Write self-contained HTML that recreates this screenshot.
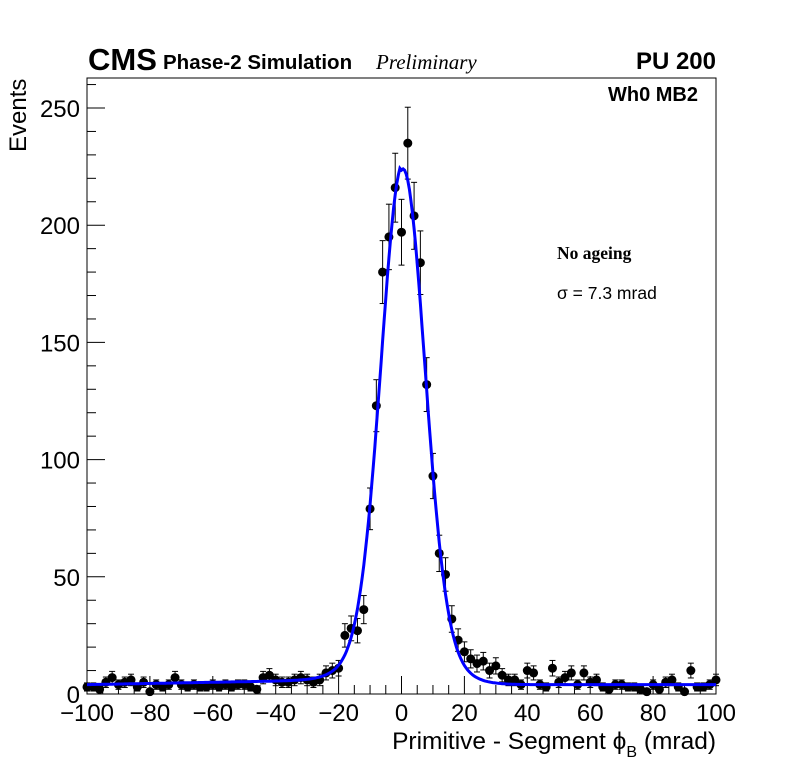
<!DOCTYPE html>
<html><head><meta charset="utf-8"><style>
body{margin:0;background:#fff}
svg text{font-family:"Liberation Sans",sans-serif}
</style></head><body>
<svg id="s" width="796" height="772" xmlns="http://www.w3.org/2000/svg">
<rect x="0" y="0" width="796" height="772" fill="#fff"/>
<rect x="87" y="78" width="629" height="616" fill="none" stroke="#000" stroke-width="1"/>
<g id="ax" stroke="#000" stroke-width="1"></g>
<g id="lab" font-size="24" fill="#000"></g>
<g id="pts"></g>
<polyline id="fit" fill="none" stroke="#0000ff" stroke-width="3"/>
<text x="88" y="70" font-size="31" font-weight="bold">CMS</text>
<text x="163" y="69" font-size="20.5" font-weight="bold">Phase-2 Simulation</text>
<text x="376" y="69" font-size="21" font-style="italic" style="font-family:'Liberation Serif',serif">Preliminary</text>
<text x="716" y="69" font-size="24" font-weight="bold" text-anchor="end">PU 200</text>
<text x="698" y="101" font-size="20" font-weight="bold" text-anchor="end">Wh0 MB2</text>
<text x="557" y="259" font-size="17.5" font-weight="bold" style="font-family:'Liberation Serif',serif">No ageing</text>
<text x="557" y="299" font-size="17.5">σ = 7.3 mrad</text>
<text x="716" y="749" font-size="24.5" text-anchor="end">Primitive - Segment ϕ<tspan font-size="16" dy="8">B</tspan><tspan dy="-8"> (mrad)</tspan></text>
<text transform="translate(26,152) rotate(-90)" font-size="24">Events</text>
</svg>
<script>
var NS="http://www.w3.org/2000/svg";
function X(v){return 87+(v+100)*3.145}
function Y(c){return 694-c*2.344}
function el(t,a,p){var e=document.createElementNS(NS,t);for(var k in a)e.setAttribute(k,a[k]);p.appendChild(e);return e}
var ax=document.getElementById('ax'),lab=document.getElementById('lab'),pts=document.getElementById('pts');
for(var v=-100;v<=100;v+=5){var L=(v%20==0)?18:9;el('line',{x1:X(v),x2:X(v),y1:694,y2:694-L},ax);}
for(var v=-100;v<=100;v+=20){var t=el('text',{x:X(v),y:721,'text-anchor':'middle'},lab);t.textContent=(v<0?'\u2212'+(-v):v);}
for(var c=0;c<=260;c+=10){var L=(c%50==0)?18:9;el('line',{x1:87,x2:87+L,y1:Y(c),y2:Y(c)},ax);}
for(var c=0;c<=250;c+=50){var t=el('text',{x:80,y:Y(c)+9,'text-anchor':'end'},lab);t.textContent=c;}
var d={"-100":3,"-98":3,"-96":2,"-94":5,"-92":7,"-90":4,"-88":5,"-86":6,"-84":3,"-82":5,"-80":1,"-78":4,"-76":3,"-74":4,"-72":7,"-70":4,"-68":3,"-66":4,"-64":3,"-62":3,"-60":4,"-58":3,"-56":4,"-54":3,"-52":4,"-50":4,"-48":3,"-46":2,"-44":7,"-42":8,"-40":6,"-38":5,"-36":5,"-34":6,"-32":7,"-30":6,"-28":5,"-26":6,"-24":9,"-22":10,"-20":11,"-18":25,"-16":28,"-14":27,"-12":36,"-10":79,"-8":123,"-6":180,"-4":195,"-2":216,"0":197,"2":235,"4":204,"6":184,"8":132,"10":93,"12":60,"14":51,"16":32,"18":23,"20":18,"22":15,"24":13,"26":14,"28":10,"30":12,"32":8,"34":6,"36":6,"38":4,"40":10,"42":9,"44":4,"46":3,"48":11,"50":5,"52":7,"54":9,"56":4,"58":9,"60":5,"62":6,"64":3,"66":2,"68":4,"70":4,"72":3,"74":3,"76":2,"78":1,"80":4,"82":2,"84":5,"86":6,"88":3,"90":1,"92":10,"94":3,"96":3,"98":4,"100":6};
for(var k in d){var v=+k,c=d[k],x=X(v),y=Y(c),e=Math.sqrt(c)*2.344;
el('line',{x1:x,x2:x,y1:Math.min(694,y+e),y2:y-e,stroke:'#000','stroke-width':1},pts);
el('line',{x1:x-3,x2:x+3,y1:y-e,y2:y-e,stroke:'#000','stroke-width':1},pts);
if(y+e<694)el('line',{x1:x-3,x2:x+3,y1:y+e,y2:y+e,stroke:'#000','stroke-width':1},pts);
el('circle',{cx:x,cy:y,r:4.5,fill:'#000'},pts);}
var s=[];for(var v=-100;v<=100;v+=0.5){var bg=v<0?4+2*(v+100)/80:4;if(v<-20)bg=Math.min(bg,6);var u=v-0.5;var c=bg+196*Math.exp(-u*u/(2*6.8*6.8))+24*Math.exp(-u*u/(2*11*11));s.push(X(v).toFixed(1)+','+Y(c).toFixed(1));}
document.getElementById('fit').setAttribute('points',s.join(' '));
</script>
</body></html>
